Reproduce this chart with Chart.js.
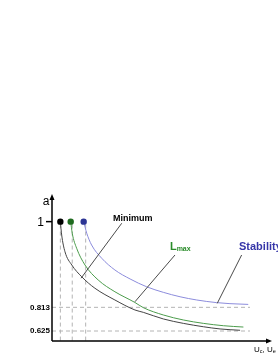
<!DOCTYPE html>
<html>
<head>
<meta charset="utf-8">
<script src="https://cdn.jsdelivr.net/npm/chart.js@4/dist/chart.umd.min.js"></script>
<style>
  body { margin: 0; background: #fff; }
  canvas { display: block; }
</style>
</head>
<body>
<canvas id="chart" width="278" height="360"></canvas>
<script>
// schematic plot units: both axes run 0..100
const minimumX = [3.8, 4.4, 5.9, 9.0, 13.5, 19.5, 28.6, 37.7, 41.5, 50.6, 59.7, 68.8, 76.4, 85.5];
const minimumY = [81.2, 72.1, 60.7, 51.7, 43.7, 35.9, 27.9, 21.1, 19.5, 15.0, 12.0, 9.7, 8.2, 7.3];

const lmaxX = [8.5, 9.2, 11.2, 15.0, 21.0, 28.6, 37.7, 41.5, 50.6, 59.7, 68.8, 77.9, 87.0];
const lmaxY = [81.2, 73.3, 63.1, 51.7, 41.5, 33.5, 26.2, 22.7, 17.7, 14.3, 12.0, 10.4, 9.5];

const stabilityX = [14.4, 15.8, 18.0, 22.6, 28.6, 35.5, 43.0, 50.6, 58.2, 65.8, 74.9, 80.9, 89.2];
const stabilityY = [81.2, 73.3, 65.3, 56.3, 48.3, 42.2, 36.9, 33.1, 30.1, 27.9, 26.1, 25.4, 24.9];

const startX = [3.8, 8.5, 14.4];
const startY = 81.2;
const dropX = [3.8, 9.2, 15.3];

const yTickValues = [81.2, 22.9, 6.8];
const yTickLabels = ['1', '0.813', '0.625'];
const guideEndX = 90;

// leader lines: [fromX, fromY, toX, toY]
const minimumLeader = [31.7, 80.1, 13.2, 42.7];
const lmaxLeader = [55.9, 58.5, 37.7, 26.7];
const stabilityLeader = [86.2, 58.5, 75.1, 25.6];

const BLACK = '#444444';
const GREEN = '#4c9c4c';
const BLUE = '#8c8cdc';
const GUIDE = '#b4b4b4';
const LEADER = '#4a4a4a';

function pts(xs, ys) {
    return xs.map((x, i) => ({ x: x, y: ys[i] }));
}

function seg(a) {
    return [{ x: a[0], y: a[1] }, { x: a[2], y: a[3] }];
}

const datasets = [];

// dashed guides
yTickValues.slice(1).forEach(v => {
    datasets.push({ data: [{ x: 0, y: v }, { x: guideEndX, y: v }], borderColor: GUIDE, borderWidth: 1, borderDash: [4, 3], pointRadius: 0, order: 5 });
});
dropX.forEach(x => {
    datasets.push({ data: [{ x: x, y: startY - 2 }, { x: x, y: 0 }], borderColor: GUIDE, borderWidth: 1, borderDash: [4, 3], pointRadius: 0, order: 5 });
});

// curves
datasets.push({ data: pts(minimumX, minimumY), borderColor: BLACK, borderWidth: 1, pointRadius: 0, tension: 0.4, cubicInterpolationMode: 'monotone', order: 3 });
datasets.push({ data: pts(lmaxX, lmaxY), borderColor: GREEN, borderWidth: 1, pointRadius: 0, tension: 0.4, cubicInterpolationMode: 'monotone', order: 3 });
datasets.push({ data: pts(stabilityX, stabilityY), borderColor: BLUE, borderWidth: 1, pointRadius: 0, tension: 0.4, cubicInterpolationMode: 'monotone', order: 3 });

// leaders
[minimumLeader, lmaxLeader, stabilityLeader].forEach(l => {
    datasets.push({ data: seg(l), borderColor: LEADER, borderWidth: 1, pointRadius: 0, order: 2 });
});

// start dots
datasets.push({
    type: 'scatter',
    data: startX.map(x => ({ x: x, y: startY })),
    pointRadius: 3.2,
    pointBackgroundColor: ['#000000', '#1f6b1f', '#2c3594'],
    pointBorderWidth: 0,
    order: 1
});

const annotations = {
    id: 'annotations',
    afterDraw(chart) {
        const ctx = chart.ctx;
        const xs = chart.scales.x;
        const ys = chart.scales.y;
        const left = chart.chartArea.left;
        const right = chart.chartArea.right;
        const top = chart.chartArea.top;
        const bottom = chart.chartArea.bottom;

        ctx.save();
        ctx.strokeStyle = '#000';
        ctx.fillStyle = '#000';
        ctx.lineWidth = 1.5;

        // axes with arrows
        ctx.beginPath();
        ctx.moveTo(left, bottom);
        ctx.lineTo(left, top + 3);
        ctx.moveTo(left, bottom);
        ctx.lineTo(right - 3, bottom);
        ctx.stroke();
        ctx.beginPath();
        ctx.moveTo(left, top);
        ctx.lineTo(left - 2.5, top + 6);
        ctx.lineTo(left + 2.5, top + 6);
        ctx.closePath();
        ctx.fill();
        ctx.beginPath();
        ctx.moveTo(right, bottom);
        ctx.lineTo(right - 6, bottom - 2.5);
        ctx.lineTo(right - 6, bottom + 2.5);
        ctx.closePath();
        ctx.fill();

        // tick mark for 1
        const y1 = ys.getPixelForValue(yTickValues[0]);
        ctx.beginPath();
        ctx.moveTo(left - 6, y1);
        ctx.lineTo(left, y1);
        ctx.stroke();

        // y tick labels
        ctx.textAlign = 'right';
        ctx.textBaseline = 'middle';
        ctx.font = '12px "Liberation Sans", Arial, sans-serif';
        ctx.fillText(yTickLabels[0], left - 8, y1 + 1);
        ctx.font = 'bold 8px "Liberation Sans", Arial, sans-serif';
        for (let i = 1; i < yTickValues.length; i++) {
            ctx.fillText(yTickLabels[i], left - 2, ys.getPixelForValue(yTickValues[i]));
        }

        // axis titles
        ctx.textAlign = 'center';
        ctx.font = '12px "Liberation Sans", Arial, sans-serif';
        ctx.fillText('a', left - 6, top + 8);

        ctx.textAlign = 'left';
        ctx.textBaseline = 'alphabetic';
        let ux = right - 18;
        const uy = bottom + 11;
        ctx.font = '8px "Liberation Sans", Arial, sans-serif';
        ctx.fillText('U', ux, uy);
        ux += ctx.measureText('U').width;
        ctx.font = '5.5px "Liberation Sans", Arial, sans-serif';
        ctx.fillText('c', ux, uy + 1);
        ux += ctx.measureText('c').width;
        ctx.font = '8px "Liberation Sans", Arial, sans-serif';
        ctx.fillText(', U', ux, uy);
        ux += ctx.measureText(', U').width;
        ctx.font = '5.5px "Liberation Sans", Arial, sans-serif';
        ctx.fillText('e', ux, uy + 1);

        // curve labels
        ctx.textBaseline = 'middle';
        ctx.font = 'bold 9px "Liberation Sans", Arial, sans-serif';
        ctx.fillStyle = '#000';
        ctx.fillText('Minimum', xs.getPixelForValue(27.7), ys.getPixelForValue(83));

        ctx.fillStyle = '#2a8c2a';
        ctx.font = 'bold 11px "Liberation Sans", Arial, sans-serif';
        let lx = xs.getPixelForValue(53.6);
        const ly = ys.getPixelForValue(63.9);
        ctx.fillText('L', lx, ly);
        lx += ctx.measureText('L').width;
        ctx.font = 'bold 7px "Liberation Sans", Arial, sans-serif';
        ctx.fillText('max', lx, ly + 2);

        ctx.fillStyle = '#3535a8';
        ctx.font = 'bold 11px "Liberation Sans", Arial, sans-serif';
        ctx.fillText('Stability', xs.getPixelForValue(85), ly);

        ctx.restore();
    }
};

new Chart(document.getElementById('chart'), {
    type: 'line',
    data: { datasets: datasets },
    options: {
        responsive: false,
        animation: false,
        devicePixelRatio: 1,
        layout: { padding: { left: 52, right: 6, top: 194, bottom: 19 } },
        plugins: { legend: { display: false }, tooltip: { enabled: false } },
        scales: {
            x: { type: 'linear', min: 0, max: 100, display: false },
            y: { type: 'linear', min: 0, max: 100, display: false }
        }
    },
    plugins: [annotations]
});
</script>
</body>
</html>
